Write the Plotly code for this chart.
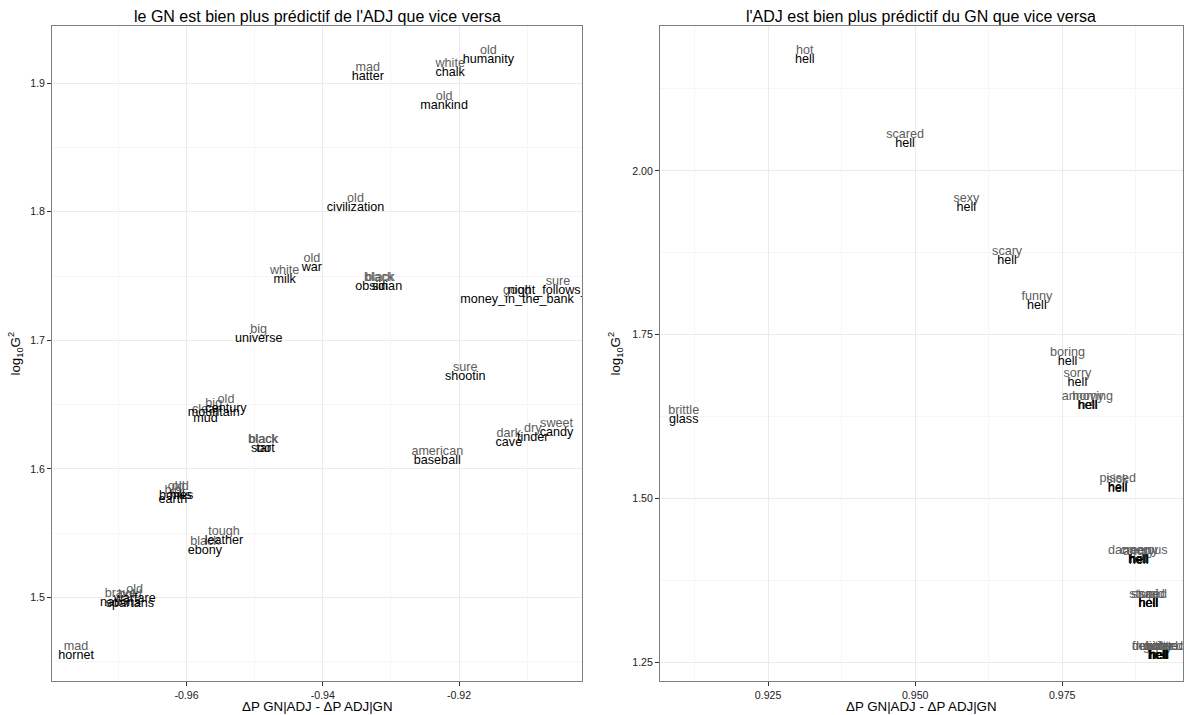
import plotly.graph_objects as go

# ---------------- data ----------------
left_adj = ["mad", "white", "old", "old", "old", "old", "white", "black", "black",
            "sure", "good", "big", "sure", "old", "big", "clear", "black", "black",
            "sweet", "dry", "dark", "american", "old", "old", "big", "tough", "black",
            "old", "bold", "brave", "mad"]
left_noun = ["hatter", "chalk", "humanity", "mankind", "civilization", "war", "milk", "obsidian", "sin",
             "night_follows_day", "money_in_the_bank", "universe", "shootin", "century", "mountain", "mud", "soot", "tar",
             "candy", "tinder", "cave", "baseball", "hills", "bones", "earth", "leather", "ebony",
             "warfare", "spartans", "nations", "hornet"]
left_x = [-0.9334, -0.9213, -0.9157, -0.9222, -0.9352, -0.9416, -0.9456, -0.9318, -0.9316,
          -0.9055, -0.9115, -0.9494, -0.9191, -0.9542, -0.9560, -0.9572, -0.9488, -0.9487,
          -0.9057, -0.9092, -0.9127, -0.9232, -0.9609, -0.9615, -0.9620, -0.9545, -0.9573,
          -0.9676, -0.9683, -0.9697, -0.9762]
left_y = [1.9082, 1.9114, 1.9213, 1.8859, 1.8062, 1.7600, 1.7504, 1.7453, 1.7450,
          1.7423, 1.7351, 1.7044, 1.6748, 1.6499, 1.6467, 1.6425, 1.6190, 1.6188,
          1.6313, 1.6274, 1.6235, 1.6095, 1.5827, 1.5823, 1.5796, 1.5474, 1.5395,
          1.5028, 1.4989, 1.4991, 1.4582]

right_adj = ["hot", "scared", "sexy", "scary", "funny", "boring", "sorry", "annoying", "horny",
             "brittle", "pissed", "sick", "dangerous", "creepy", "angry", "stoned", "stupid", "sad",
             "delighted", "frustrated", "excited", "bitter", "guilty"]
right_noun = ["hell", "hell", "hell", "hell", "hell", "hell", "hell", "hell", "hell",
              "glass", "hell", "hell", "hell", "hell", "hell", "hell", "hell", "hell",
              "hell", "hell", "hell", "hell", "hell"]
right_x = [0.93124, 0.94829, 0.95871, 0.96564, 0.97070, 0.97590, 0.97759, 0.97929, 0.97940,
           0.91066, 0.98446, 0.98440, 0.98786, 0.98810, 0.98800, 0.98963, 0.98958, 0.98970,
           0.99120, 0.99140, 0.99132, 0.99150, 0.99125]
right_y = [2.1757, 2.0485, 1.9504, 1.8700, 1.8010, 1.7146, 1.6833, 1.6476, 1.6480,
           1.6262, 1.5224, 1.5220, 1.4125, 1.4128, 1.4122, 1.3457, 1.3455, 1.3460,
           1.2668, 1.2670, 1.2667, 1.2672, 1.2669]

left_xticks = [-0.96, -0.94, -0.92]
left_xticklabels = ["-0.96", "-0.94", "-0.92"]
left_xminor = [-0.97, -0.95, -0.93, -0.91]
left_yticks = [1.5, 1.6, 1.7, 1.8, 1.9]
left_yticklabels = ["1.5", "1.6", "1.7", "1.8", "1.9"]
left_yminor = [1.45, 1.55, 1.65, 1.75, 1.85]
right_xticks = [0.925, 0.950, 0.975]
right_xticklabels = ["0.925", "0.950", "0.975"]
right_xminor = [0.9125, 0.9375, 0.9625, 0.9875]
right_yticks = [1.25, 1.50, 1.75, 2.00]
right_yticklabels = ["1.25", "1.50", "1.75", "2.00"]
right_yminor = [1.375, 1.625, 1.875, 2.125]

title_left = "le GN est bien plus prédictif de l'ADJ que vice versa"
title_right = "l'ADJ est bien plus prédictif du GN que vice versa"
xlab = "ΔP GN|ADJ - ΔP ADJ|GN"
ylab = "log<sub>10</sub>G<sup>2</sup>"

# ---------------- layout geometry ----------------
W, H = 1184, 715
FONT = "Liberation Sans, Arial, Helvetica, sans-serif"
ydom = [(H - 681) / H, (H - 26) / H]
xdom_left = [52 / W, 582 / W]
xdom_right = [660 / W, 1183 / W]
panel_h = (ydom[1] - ydom[0]) * H
SHIFT = 4.5  # px between label centre and point


def expand(v, f=0.05):
    lo, hi = min(v), max(v)
    s = hi - lo
    return [lo - f * s, hi + f * s]


lx_rng = expand(left_x)
ly_rng = expand(left_y)
rx_rng = expand(right_x)
ry_rng = expand(right_y)


def shifted(rng, px):
    u = (rng[1] - rng[0]) / panel_h
    return [rng[0] - px * u, rng[1] - px * u]


ADJ_COL = "#5c5c5c"
NOUN_COL = "#000000"
LBL = 12.6

fig = go.Figure()
# base (empty) traces to create subplots
fig.add_trace(go.Scatter(x=[], y=[], xaxis="x", yaxis="y", showlegend=False))
fig.add_trace(go.Scatter(x=[], y=[], xaxis="x2", yaxis="y2", showlegend=False))

fig.add_trace(go.Scatter(x=left_x, y=left_y, text=left_adj, mode="text", textposition="middle center",
                         textfont=dict(family=FONT, size=LBL, color=ADJ_COL), cliponaxis=True,
                         xaxis="x", yaxis="y3", showlegend=False, hoverinfo="skip"))
fig.add_trace(go.Scatter(x=left_x, y=left_y, text=left_noun, mode="text", textposition="middle center",
                         textfont=dict(family=FONT, size=LBL, color=NOUN_COL), cliponaxis=True,
                         xaxis="x", yaxis="y4", showlegend=False, hoverinfo="skip"))
fig.add_trace(go.Scatter(x=right_x, y=right_y, text=right_adj, mode="text", textposition="middle center",
                         textfont=dict(family=FONT, size=LBL, color=ADJ_COL), cliponaxis=True,
                         xaxis="x2", yaxis="y5", showlegend=False, hoverinfo="skip"))
fig.add_trace(go.Scatter(x=right_x, y=right_y, text=right_noun, mode="text", textposition="middle center",
                         textfont=dict(family=FONT, size=LBL, color=NOUN_COL), cliponaxis=True,
                         xaxis="x2", yaxis="y6", showlegend=False, hoverinfo="skip"))


def axis_style(tickvals, ticktext, minor_vals, rng, dom, anchor):
    return dict(
        domain=dom, anchor=anchor, range=rng,
        tickmode="array", tickvals=tickvals, ticktext=ticktext,
        showgrid=True, gridcolor="#ebebeb", gridwidth=1,
        minor=dict(tickmode="array", tickvals=minor_vals, showgrid=True,
                   gridcolor="#f6f6f6", gridwidth=1, ticks=""),
        zeroline=False, showline=True, mirror=True, linecolor="#7f7f7f", linewidth=1,
        ticks="outside", ticklen=4, tickwidth=1, tickcolor="#333333",
        tickfont=dict(family=FONT, size=10.6, color="#222222"),
    )


fig.update_layout(
    width=W, height=H, margin=dict(l=0, r=0, t=0, b=0),
    paper_bgcolor="white", plot_bgcolor="white", showlegend=False,
    xaxis=axis_style(left_xticks, left_xticklabels, left_xminor, lx_rng, xdom_left, "y"),
    yaxis=axis_style(left_yticks, left_yticklabels, left_yminor, ly_rng, ydom, "x"),
    xaxis2=axis_style(right_xticks, right_xticklabels, right_xminor, rx_rng, xdom_right, "y2"),
    yaxis2=axis_style(right_yticks, right_yticklabels, right_yminor, ry_rng, ydom, "x2"),
    yaxis3=dict(overlaying="y", anchor="x", range=shifted(ly_rng, SHIFT), visible=False),
    yaxis4=dict(overlaying="y", anchor="x", range=shifted(ly_rng, -SHIFT), visible=False),
    yaxis5=dict(overlaying="y2", anchor="x2", range=shifted(ry_rng, SHIFT), visible=False),
    yaxis6=dict(overlaying="y2", anchor="x2", range=shifted(ry_rng, -SHIFT), visible=False),
)

ann = []
ann.append(dict(text=title_left, x=(xdom_left[0] + xdom_left[1]) / 2, y=1 - 16.7 / H,
                font=dict(family=FONT, size=16, color="black")))
ann.append(dict(text=title_right, x=(xdom_right[0] + xdom_right[1]) / 2, y=1 - 16.7 / H,
                font=dict(family=FONT, size=16, color="black")))
ann.append(dict(text=xlab, x=(xdom_left[0] + xdom_left[1]) / 2, y=1 - 706.7 / H,
                font=dict(family=FONT, size=13.3, color="black")))
ann.append(dict(text=xlab, x=(xdom_right[0] + xdom_right[1]) / 2, y=1 - 706.7 / H,
                font=dict(family=FONT, size=13.3, color="black")))
ann.append(dict(text=ylab, x=15 / W, y=(ydom[0] + ydom[1]) / 2, textangle=-90,
                font=dict(family=FONT, size=13.3, color="black")))
ann.append(dict(text=ylab, x=615 / W, y=(ydom[0] + ydom[1]) / 2, textangle=-90,
                font=dict(family=FONT, size=13.3, color="black")))
for a in ann:
    a.update(xref="paper", yref="paper", showarrow=False, xanchor="center", yanchor="middle")
fig.update_layout(annotations=ann)

fig.write_html("out.html")
